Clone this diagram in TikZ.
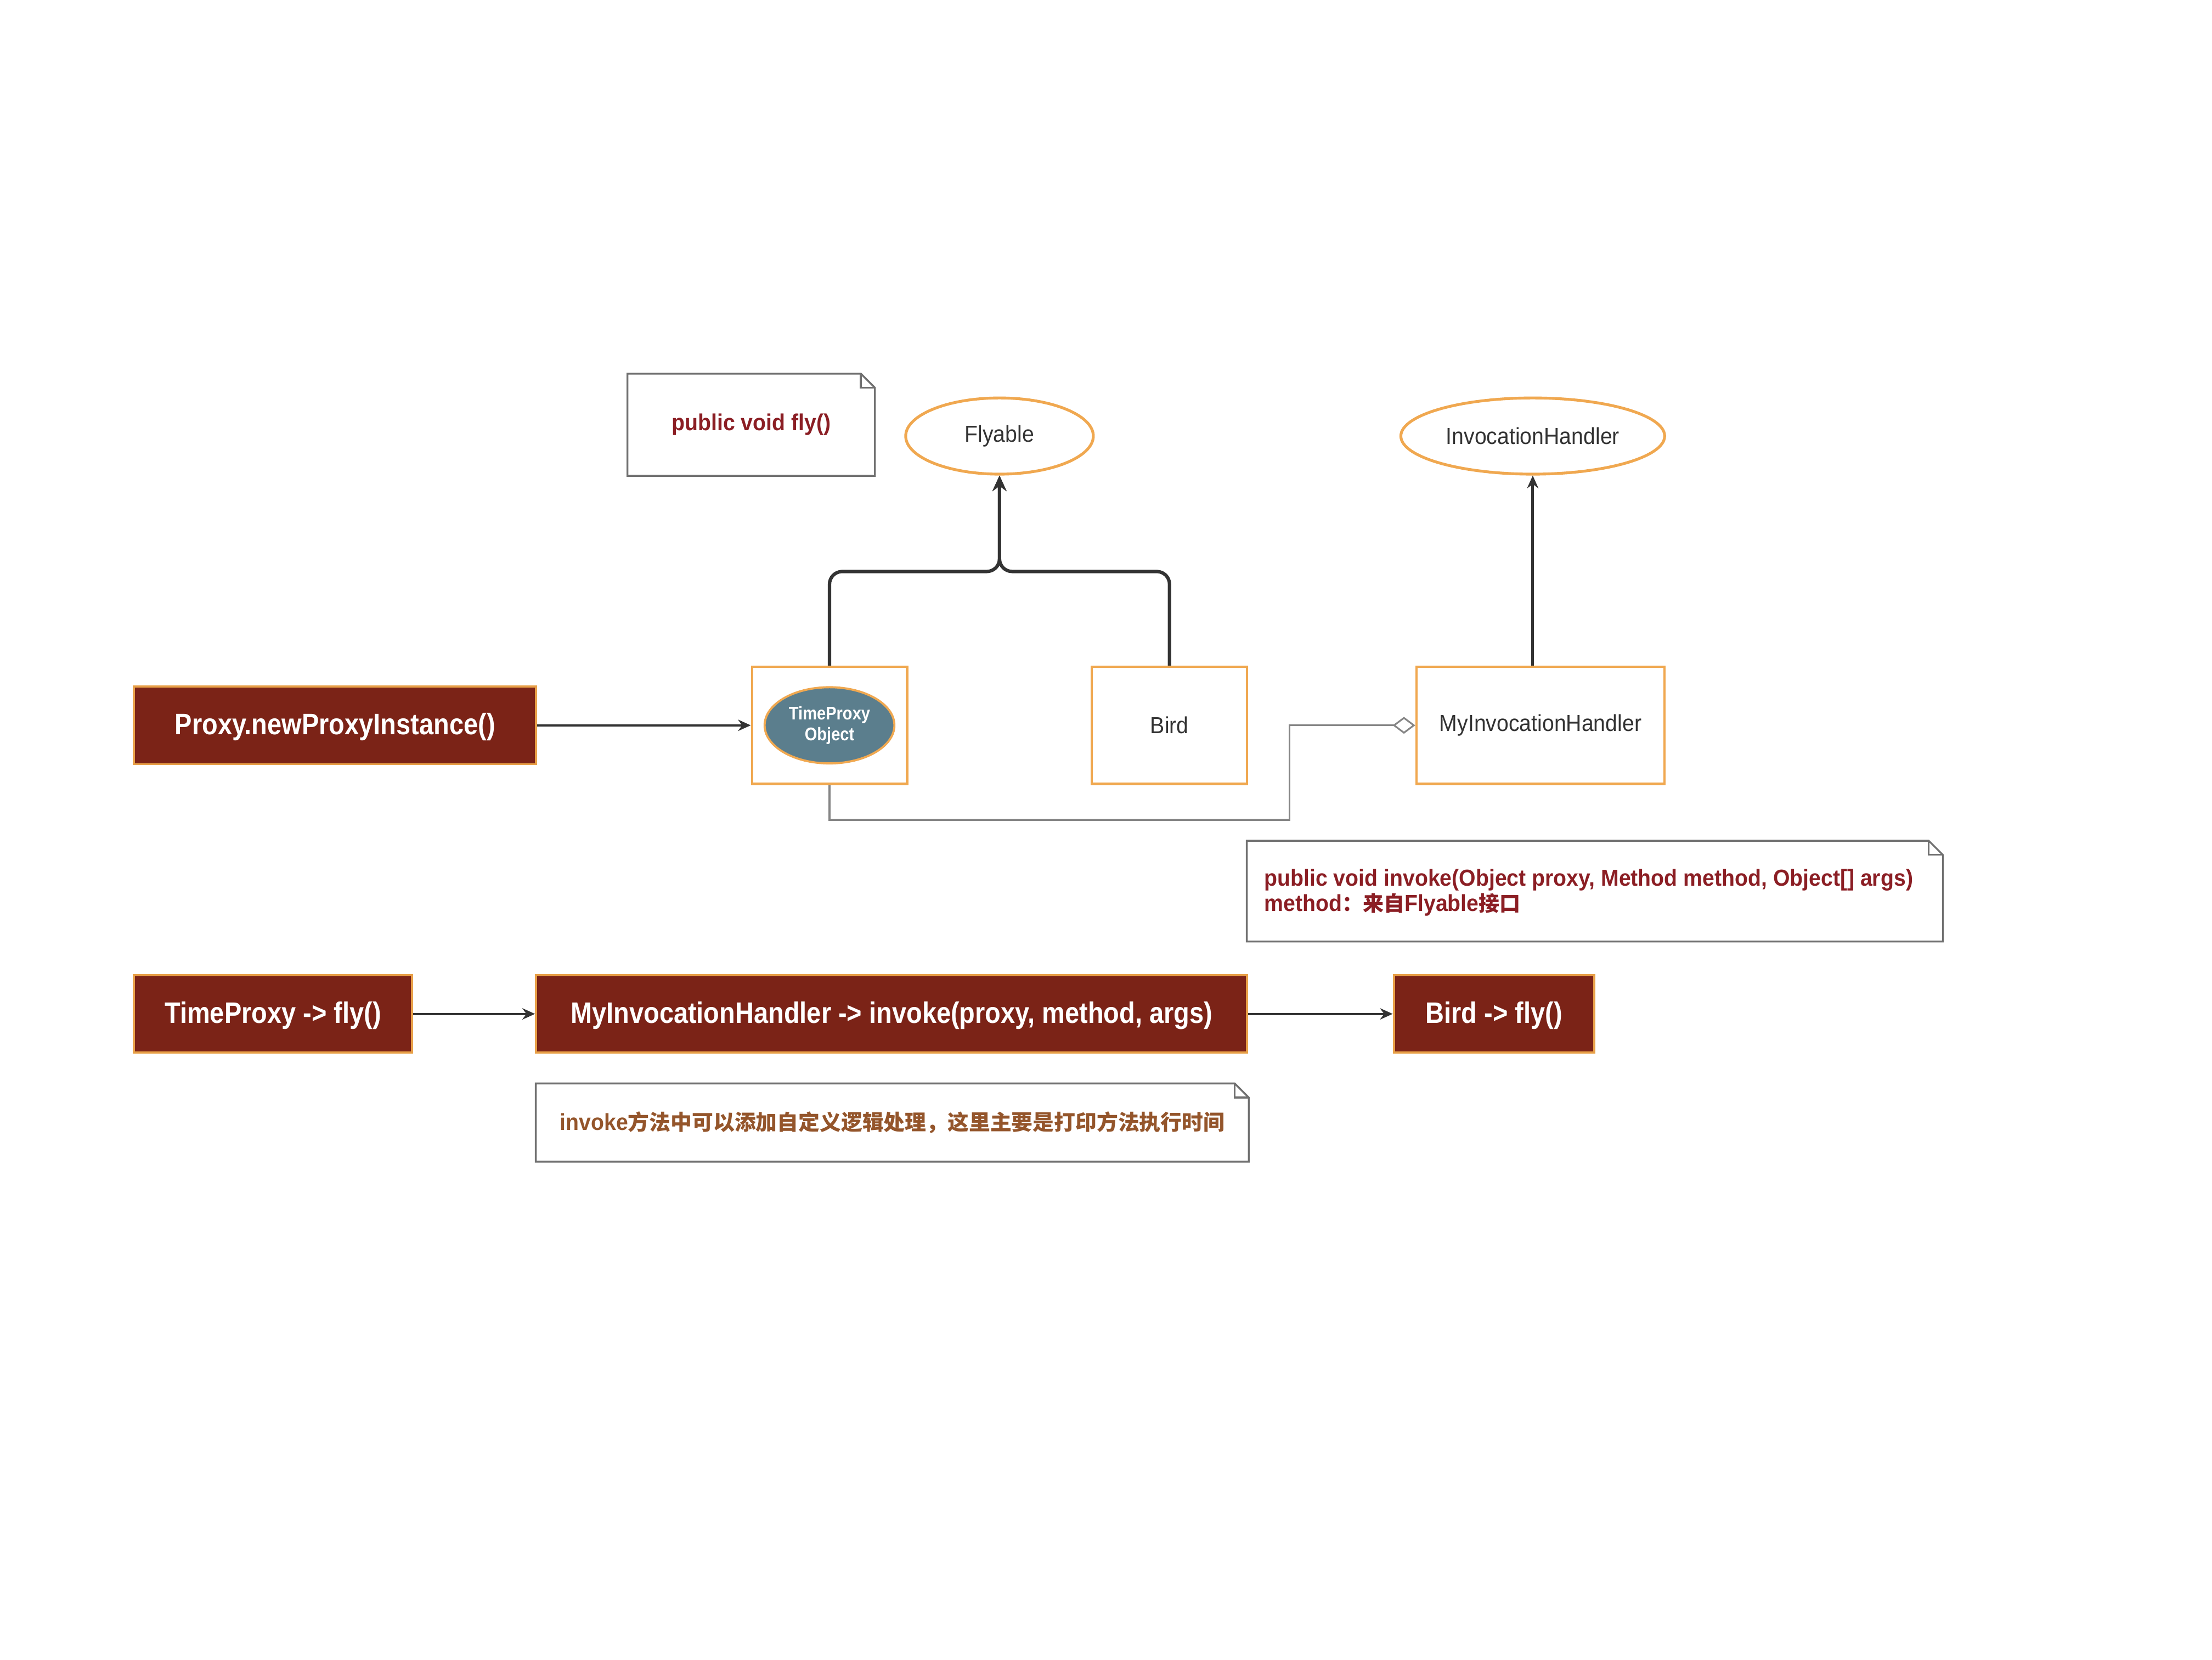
\documentclass[tikz,border=0pt]{standalone}
\usepackage{fontspec}
\setmainfont{Liberation Sans}
\newfontfamily\boxfont[FakeStretch=0.87]{Liberation Sans}
\newfontfamily\labfont[FakeStretch=0.93]{Liberation Sans}
\newfontfamily\cjkfont{Noto Sans CJK SC}
\usetikzlibrary{arrows.meta,shapes.geometric,calc}

\definecolor{boxred}{HTML}{7B2317}
\definecolor{boxedge}{HTML}{E8A048}
\definecolor{classedge}{HTML}{F0A850}
\definecolor{objfill}{HTML}{5B7E8D}
\definecolor{notetext}{HTML}{8B1E24}
\definecolor{notetextb}{HTML}{94552B}
\definecolor{noteedge}{HTML}{707070}
\definecolor{ink}{HTML}{333333}
\definecolor{aggline}{HTML}{858585}

% folded-corner outline around a named note node
\newcommand\foldnote[1]{%
  \draw[noteline] (#1.north west) -- ([xshift=-10pt]#1.north east)
    -- ([yshift=-10pt]#1.north east) -- (#1.south east) -- (#1.south west) -- cycle;
  \draw[noteline] ([xshift=-10pt]#1.north east) -- ([xshift=-10pt,yshift=-10pt]#1.north east)
    -- ([yshift=-10pt]#1.north east);}

\tikzset{
  redbox/.style={rectangle, draw=boxedge, line width=1.5pt, fill=boxred, text=white,
    font=\boxfont\bfseries\fontsize{21}{25}\selectfont, inner sep=0pt,
    minimum height=55pt, text depth=2pt},
  classbox/.style={rectangle, draw=classedge, line width=1.6pt, fill=white, text=ink,
    font=\labfont\fontsize{16.4}{20}\selectfont, minimum width=110pt, minimum height=83pt},
  iface/.style={ellipse, draw=classedge, line width=2pt, fill=white, text=ink,
    font=\labfont\fontsize{16.4}{20}\selectfont, minimum height=54pt, inner sep=0pt},
  objnode/.style={ellipse, draw=classedge, line width=1.5pt, fill=objfill, text=white,
    font=\boxfont\bfseries\fontsize{13}{15}\selectfont, align=center,
    minimum width=92pt, minimum height=54pt, inner sep=0pt},
  notebox/.style={rectangle, inner sep=0pt, text=notetext,
    font=\labfont\bfseries\fontsize{16.4}{18}\selectfont},
  noteline/.style={draw=noteedge, line width=1.3pt},
  flow/.style={draw=ink, line width=1.6pt, -{Stealth[length=9pt,width=8pt]}},
  inherit/.style={draw=ink, line width=2.4pt, rounded corners=9pt,
    -{Stealth[length=11pt,width=10pt]}},
  agg/.style={draw=aggline, line width=1.2pt,
    -{Diamond[open, length=16pt, width=12pt, line width=1.2pt]}}
}

\begin{document}
\begin{tikzpicture}[x=1pt, y=-1pt]
  \useasboundingbox[fill=white] (0,0) rectangle (1568,1176);

  % interfaces
  \node[iface, minimum width=133pt] (fly) at (708.5,309) {Flyable};
  \node[iface, minimum width=187pt] (ih) at (1086.5,309) {InvocationHandler};

  % classes
  \node[classbox] (tp) at (588,514) {};
  \node[objnode] (tpo) at (588,514) {TimeProxy\\Object};
  \node[classbox] (bird) at (829,514) {Bird};
  \node[classbox, minimum width=176pt] (myh) at (1092,514) {MyInvocationHandler};

  % factory call
  \node[redbox, minimum width=285pt] (proxy) at (237.5,514) {Proxy.newProxyInstance()};

  % call chain
  \node[redbox, minimum width=197pt] (tpf) at (193.5,718.5) {TimeProxy -> fly()};
  \node[redbox, minimum width=504pt] (mih) at (632,718.5) {MyInvocationHandler -> invoke(proxy, method, args)};
  \node[redbox, minimum width=142pt] (bf) at (1059,718.5) {Bird -> fly()};

  % notes
  \node[notebox, minimum width=175pt, minimum height=72pt] (n1) at (532.5,301) {public void fly()};
  \foldnote{n1}
  \node[notebox, minimum width=493pt, minimum height=71pt] (n2) at (1130.5,631.5) {};
  \foldnote{n2}
  \node[notebox, anchor=west, align=left] (n2t) at (896,632.5)
    {public void invoke(Object proxy, Method method, Object[] args)\\
     method{\cjkfont\bfseries\fontsize{14.8}{18}\selectfont ：来自}Flyable{\cjkfont\bfseries\fontsize{14.8}{18}\selectfont 接口}};
  \node[notebox, minimum width=505pt, minimum height=55pt, text=notetextb] (n3) at (632.5,795.5)
    {invoke{\cjkfont\bfseries\fontsize{15.1}{18}\selectfont 方法中可以添加自定义逻辑处理，这里主要是打印方法执行时间}};
  \foldnote{n3}

  % connectors
  \coordinate (join) at (708.5,405);
  \draw[inherit] (tp.north) |- (join) -- (fly.south);
  \draw[inherit] (bird.north) |- (join) -- (fly.south);
  \draw[flow, line width=2pt] (myh.north -| ih.south) -- (ih.south);
  \draw[flow] (proxy.east) -- (tp.west);
  \coordinate (bend) at (914,581);
  \draw[agg] (tp.south) |- (bend) |- (myh.west);
  \draw[flow] (tpf.east) -- (mih.west);
  \draw[flow] (mih.east) -- (bf.west);
\end{tikzpicture}
\end{document}
